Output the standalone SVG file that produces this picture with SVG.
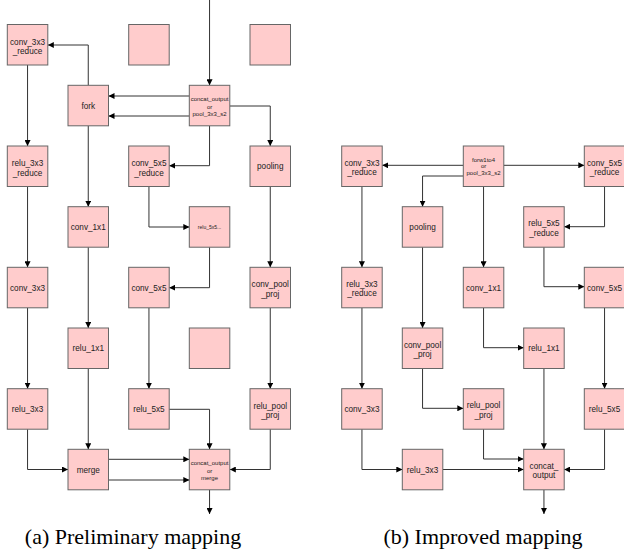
<svg xmlns="http://www.w3.org/2000/svg" width="624" height="554" viewBox="0 0 624 554">
<style>
.b{fill:#ffcccc;stroke:#666;stroke-width:1}
.t{font-family:"Liberation Sans",Arial,sans-serif;font-size:8.2px;fill:#222;text-anchor:middle}
.s{font-family:"Liberation Sans",Arial,sans-serif;font-size:6px;fill:#222;text-anchor:middle}
.xs{font-family:"Liberation Sans",Arial,sans-serif;font-size:5px;fill:#222;text-anchor:middle}
.e{fill:none;stroke:#333;stroke-width:1;marker-end:url(#a)}
.c{font-family:"Liberation Serif","Times New Roman",serif;font-size:22px;fill:#000;text-anchor:middle}
</style>
<defs>
<marker id="a" markerUnits="userSpaceOnUse" markerWidth="6" markerHeight="6" refX="6" refY="3" orient="auto">
<path d="M0,0 L6,3 L0,6 z" fill="#000"/>
</marker>
</defs>
<rect width="624" height="554" fill="#fff"/>
<g id="connectors">
<path class="e" d="M209.55,0 V85.3"/>
<path class="e" d="M189.3,96 H108.5"/>
<path class="e" d="M189.3,116 H108.5"/>
<path class="e" d="M88.25,85.3 V45 H47.8"/>
<path class="e" d="M27.55,65 V146"/>
<path class="e" d="M209.55,125.8 V165.7 H169.2"/>
<path class="e" d="M229.8,106 H270.25 V146"/>
<path class="e" d="M88.25,125.8 V206.7"/>
<path class="e" d="M27.55,186.5 V267.3"/>
<path class="e" d="M148.95,186.5 V227 H189.3"/>
<path class="e" d="M209.55,247.2 V287.7 H169.2"/>
<path class="e" d="M270.25,186.5 V267.3"/>
<path class="e" d="M88.25,247.2 V328"/>
<path class="e" d="M27.55,307.8 V388.7"/>
<path class="e" d="M148.95,307.8 V388.7"/>
<path class="e" d="M270.25,307.8 V388.7"/>
<path class="e" d="M27.55,429.2 V469.5 H68"/>
<path class="e" d="M88.25,368.5 V449.3"/>
<path class="e" d="M169.2,409.3 H209.55 V449.3"/>
<path class="e" d="M108.5,459.3 H189.3"/>
<path class="e" d="M108.5,480 H189.3"/>
<path class="e" d="M270.25,429.2 V469.5 H229.8"/>
<path class="e" d="M209.55,489.8 V514"/>
<path class="e" d="M463.3,165.3 H382.2"/>
<path class="e" d="M503.8,165.3 H584.3"/>
<path class="e" d="M463.3,176 H422.55 V206.7"/>
<path class="e" d="M483.55,186.5 V267.3"/>
<path class="e" d="M361.95,186.5 V267.3"/>
<path class="e" d="M604.55,186.5 V226.7 H564.2"/>
<path class="e" d="M543.95,247.2 V286.7 H584.3"/>
<path class="e" d="M422.55,247.2 V328"/>
<path class="e" d="M361.95,307.8 V388.7"/>
<path class="e" d="M483.55,307.8 V347.7 H523.7"/>
<path class="e" d="M604.55,307.8 V388.7"/>
<path class="e" d="M422.55,368.5 V408.3 H463.3"/>
<path class="e" d="M543.95,368.5 V449.3"/>
<path class="e" d="M361.95,429.2 V469.5 H402.3"/>
<path class="e" d="M483.55,429.2 V459 H523.7"/>
<path class="e" d="M442.8,469.5 H523.7"/>
<path class="e" d="M604.55,429.2 V469.5 H564.2"/>
<path class="e" d="M543.95,489.8 V514"/>
</g>
<g id="a_conv_3x3_reduce"><rect class="b" x="7.3" y="24.5" width="40.5" height="40.5"/><text class="t" x="27.55" y="44.5">conv_3x3</text><text class="t" x="27.55" y="54">_reduce</text></g>
<g id="a_empty1"><rect class="b" x="128.7" y="24.5" width="40.5" height="40.5"/></g>
<g id="a_empty2"><rect class="b" x="250" y="24.5" width="40.5" height="40.5"/></g>
<g id="a_fork"><rect class="b" x="68" y="85.3" width="40.5" height="40.5"/><text class="t" x="88.25" y="108.6">fork</text></g>
<g id="a_concat_in"><rect class="b" x="189.3" y="85.3" width="40.5" height="40.5"/><text class="s" x="209.55" y="101">concat_output</text><text class="s" x="209.55" y="108.8">or</text><text class="s" x="209.55" y="116.4">pool_3x3_s2</text></g>
<g id="a_relu_3x3_reduce"><rect class="b" x="7.3" y="146" width="40.5" height="40.5"/><text class="t" x="27.55" y="166">relu_3x3</text><text class="t" x="27.55" y="175.5">_reduce</text></g>
<g id="a_conv_5x5_reduce"><rect class="b" x="128.7" y="146" width="40.5" height="40.5"/><text class="t" x="148.95" y="166">conv_5x5</text><text class="t" x="148.95" y="175.5">_reduce</text></g>
<g id="a_pooling"><rect class="b" x="250" y="146" width="40.5" height="40.5"/><text class="t" x="270.25" y="169.3">pooling</text></g>
<g id="a_conv_1x1"><rect class="b" x="68" y="206.7" width="40.5" height="40.5"/><text class="t" x="88.25" y="230">conv_1x1</text></g>
<g id="a_relu_5x5_reduce"><rect class="b" x="189.3" y="206.7" width="40.5" height="40.5"/><text class="xs" x="209.55" y="229">relu_5x5...</text></g>
<g id="a_conv_3x3"><rect class="b" x="7.3" y="267.3" width="40.5" height="40.5"/><text class="t" x="27.55" y="290.6">conv_3x3</text></g>
<g id="a_conv_5x5"><rect class="b" x="128.7" y="267.3" width="40.5" height="40.5"/><text class="t" x="148.95" y="290.6">conv_5x5</text></g>
<g id="a_conv_pool_proj"><rect class="b" x="250" y="267.3" width="40.5" height="40.5"/><text class="t" x="270.25" y="287.3">conv_pool</text><text class="t" x="270.25" y="296.8">_proj</text></g>
<g id="a_relu_1x1"><rect class="b" x="68" y="328" width="40.5" height="40.5"/><text class="t" x="88.25" y="351.3">relu_1x1</text></g>
<g id="a_empty3"><rect class="b" x="189.3" y="328" width="40.5" height="40.5"/></g>
<g id="a_relu_3x3"><rect class="b" x="7.3" y="388.7" width="40.5" height="40.5"/><text class="t" x="27.55" y="412">relu_3x3</text></g>
<g id="a_relu_5x5"><rect class="b" x="128.7" y="388.7" width="40.5" height="40.5"/><text class="t" x="148.95" y="412">relu_5x5</text></g>
<g id="a_relu_pool_proj"><rect class="b" x="250" y="388.7" width="40.5" height="40.5"/><text class="t" x="270.25" y="408.7">relu_pool</text><text class="t" x="270.25" y="418.2">_proj</text></g>
<g id="a_merge"><rect class="b" x="68" y="449.3" width="40.5" height="40.5"/><text class="t" x="88.25" y="472.6">merge</text></g>
<g id="a_concat_out"><rect class="b" x="189.3" y="449.3" width="40.5" height="40.5"/><text class="s" x="209.55" y="465">concat_output</text><text class="s" x="209.55" y="472.8">or</text><text class="s" x="209.55" y="480.4">merge</text></g>
<g id="b_conv_3x3_reduce"><rect class="b" x="341.7" y="146" width="40.5" height="40.5"/><text class="t" x="361.95" y="165.5">conv_3x3</text><text class="t" x="361.95" y="175">_reduce</text></g>
<g id="b_forw1to4"><rect class="b" x="463.3" y="146" width="40.5" height="40.5"/><text class="s" x="483.55" y="161.5">forw1to4</text><text class="s" x="483.55" y="168.2">or</text><text class="s" x="483.55" y="174.9">pool_3x3_s2</text></g>
<g id="b_conv_5x5_reduce"><rect class="b" x="584.3" y="146" width="40.5" height="40.5"/><text class="t" x="604.55" y="165.5">conv_5x5</text><text class="t" x="604.55" y="175">_reduce</text></g>
<g id="b_pooling"><rect class="b" x="402.3" y="206.7" width="40.5" height="40.5"/><text class="t" x="422.55" y="230">pooling</text></g>
<g id="b_relu_5x5_reduce"><rect class="b" x="523.7" y="206.7" width="40.5" height="40.5"/><text class="t" x="543.95" y="226.2">relu_5x5</text><text class="t" x="543.95" y="235.7">_reduce</text></g>
<g id="b_relu_3x3_reduce"><rect class="b" x="341.7" y="267.3" width="40.5" height="40.5"/><text class="t" x="361.95" y="286.8">relu_3x3</text><text class="t" x="361.95" y="296.3">_reduce</text></g>
<g id="b_conv_1x1"><rect class="b" x="463.3" y="267.3" width="40.5" height="40.5"/><text class="t" x="483.55" y="290.6">conv_1x1</text></g>
<g id="b_conv_5x5"><rect class="b" x="584.3" y="267.3" width="40.5" height="40.5"/><text class="t" x="604.55" y="290.6">conv_5x5</text></g>
<g id="b_conv_pool_proj"><rect class="b" x="402.3" y="328" width="40.5" height="40.5"/><text class="t" x="422.55" y="347.5">conv_pool</text><text class="t" x="422.55" y="357">_proj</text></g>
<g id="b_relu_1x1"><rect class="b" x="523.7" y="328" width="40.5" height="40.5"/><text class="t" x="543.95" y="351.3">relu_1x1</text></g>
<g id="b_conv_3x3"><rect class="b" x="341.7" y="388.7" width="40.5" height="40.5"/><text class="t" x="361.95" y="412">conv_3x3</text></g>
<g id="b_relu_pool_proj"><rect class="b" x="463.3" y="388.7" width="40.5" height="40.5"/><text class="t" x="483.55" y="408.2">relu_pool</text><text class="t" x="483.55" y="417.7">_proj</text></g>
<g id="b_relu_5x5"><rect class="b" x="584.3" y="388.7" width="40.5" height="40.5"/><text class="t" x="604.55" y="412">relu_5x5</text></g>
<g id="b_relu_3x3"><rect class="b" x="402.3" y="449.3" width="40.5" height="40.5"/><text class="t" x="422.55" y="472.6">relu_3x3</text></g>
<g id="b_concat_output"><rect class="b" x="523.7" y="449.3" width="40.5" height="40.5"/><text class="t" x="543.95" y="468.8">concat_</text><text class="t" x="543.95" y="478.3">output</text></g>
<text class="c" x="133" y="544">(a) Preliminary mapping</text>
<text class="c" x="483" y="544">(b) Improved mapping</text>
</svg>
